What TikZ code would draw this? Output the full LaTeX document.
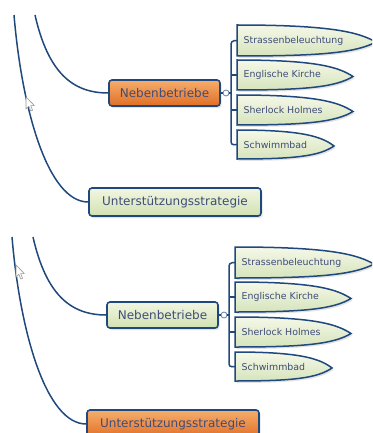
\documentclass[tikz,border=0pt]{standalone}
\usepackage{fontspec}
\setmainfont{DejaVu Sans}
\usetikzlibrary{shadows}
\definecolor{bord}{HTML}{1F497D}
\definecolor{txt}{HTML}{3E4C78}
\definecolor{orT}{HTML}{F6AE6C}
\definecolor{orB}{HTML}{E06E26}
\definecolor{grT}{HTML}{F2F6E2}
\definecolor{grB}{HTML}{D2E1B2}
\definecolor{lfT}{HTML}{F5F8E8}
\definecolor{lfB}{HTML}{D6E4BC}
\tikzset{
  conn/.style={draw=bord, line width=1.5pt},
  shadowed/.style={drop shadow={opacity=0.22, shadow xshift=1.5pt, shadow yshift=-2pt}},
  box/.style={draw=bord, line width=1.6pt, rounded corners=3pt, text=txt,
    font=\fontsize{12}{14}\selectfont, inner sep=0pt, shadowed},
  orangebox/.style={box, top color=orT, bottom color=orB},
  greenbox/.style={box, top color=grT, bottom color=grB},
  leaf/.style={draw=bord, line width=1.5pt, top color=lfT, bottom color=lfB, shadowed},
  leaftext/.style={text=txt, font=\fontsize{9.4}{11}\selectfont, inner sep=0pt, anchor=west},
  knob/.style={circle, draw=bord!70, line width=0.8pt, fill=white, inner sep=0pt, minimum size=6pt},
  cursor/.style={draw=gray!80, fill=white, line width=0.6pt, line join=round}
}
\newcommand\leafshape[5]{%
  \pgfmathsetmacro\leafW{#4-#1}%
  \pgfmathsetmacro\leafH{#3-#2}%
  \pgfmathsetmacro\leafM{#2+0.55*\leafH}%
  \path[leaf] (#1,#2) .. controls ({#1+0.7*\leafW},#2) and ({#4-0.12*\leafW},{#2+0.25*\leafH}) .. (#4,\leafM)
     .. controls ({#4-0.15*\leafW},{#3-0.1*\leafH}) and ({#1+0.6*\leafW},#3) .. (#1,#3) -- cycle;
  \coordinate (#5) at (#1,{#2+0.5*\leafH});
}
\newcommand\mypanel[2]{%
  \leafshape{237}{25}{56}{376}{sL}
  \leafshape{237}{60}{90}{353}{eL}
  \leafshape{237}{95}{125}{353}{hL}
  \leafshape{237}{130}{159}{334}{wL}
  \node[leaftext] (sT) at ([xshift=6.5pt]sL) {Strassenbeleuchtung};
  \node[leaftext] (eT) at ([xshift=6.5pt]eL) {Englische Kirche};
  \node[leaftext] (hT) at ([xshift=6.5pt]hL) {Sherlock Holmes};
  \node[leaftext] (wT) at ([xshift=6.5pt]wL) {Schwimmbad};
  \node[#1, minimum width=111pt, minimum height=26pt] (nb) at (164.5,93) {Nebenbetriebe};
  \node[#2, minimum width=172pt, minimum height=28pt] (us) at (175,202) {Unterstützungsstrategie};
  \node[knob] (kn) at (226,93) {};
  \coordinate (t1) at (14,15);
  \coordinate (t2) at (35,15);
  \coordinate (bt) at (231,41);
  \coordinate (bb) at (231,145);
  \coordinate (bm) at (231,93);
  \coordinate (be) at (231,75);
  \coordinate (bh) at (231,110);
  \draw[conn] (t1) .. controls (22,110) and (48,202) .. (us.west);
  \draw[conn] (t2) .. controls (48,72) and (72,93) .. (nb.west);
  \draw[conn] (nb.east) -- (kn.west);
  \draw[conn] (kn.east) -- (bm);
  \draw[conn, rounded corners=3pt] (sL) -- (bt) -- (bb) -- (wL);
  \draw[conn] (be) -- (eL);
  \draw[conn] (bh) -- (hL);
}
\begin{document}
\begin{tikzpicture}[x=1pt, y=-1pt]
  \useasboundingbox (0,0) rectangle (372,433);
  \fill[white] (0,0) rectangle (372,433);
  \clip (0,0) rectangle (372,433);
  \begin{scope}[name prefix=a-]
    \mypanel{orangebox}{greenbox}
  \end{scope}
  \begin{scope}[shift={(-2,222)}, name prefix=b-]
    \mypanel{greenbox}{orangebox}
  \end{scope}
  \path[cursor] (26,97) -- (26,109) -- (28.8,106.3) -- (30.8,111) -- (32.6,110.2) -- (30.6,105.6) -- (34.4,105.6) -- cycle;
  \path[cursor] (16,265) -- (16,277) -- (18.8,274.3) -- (20.8,279) -- (22.6,278.2) -- (20.6,273.6) -- (24.4,273.6) -- cycle;
\end{tikzpicture}
\end{document}
